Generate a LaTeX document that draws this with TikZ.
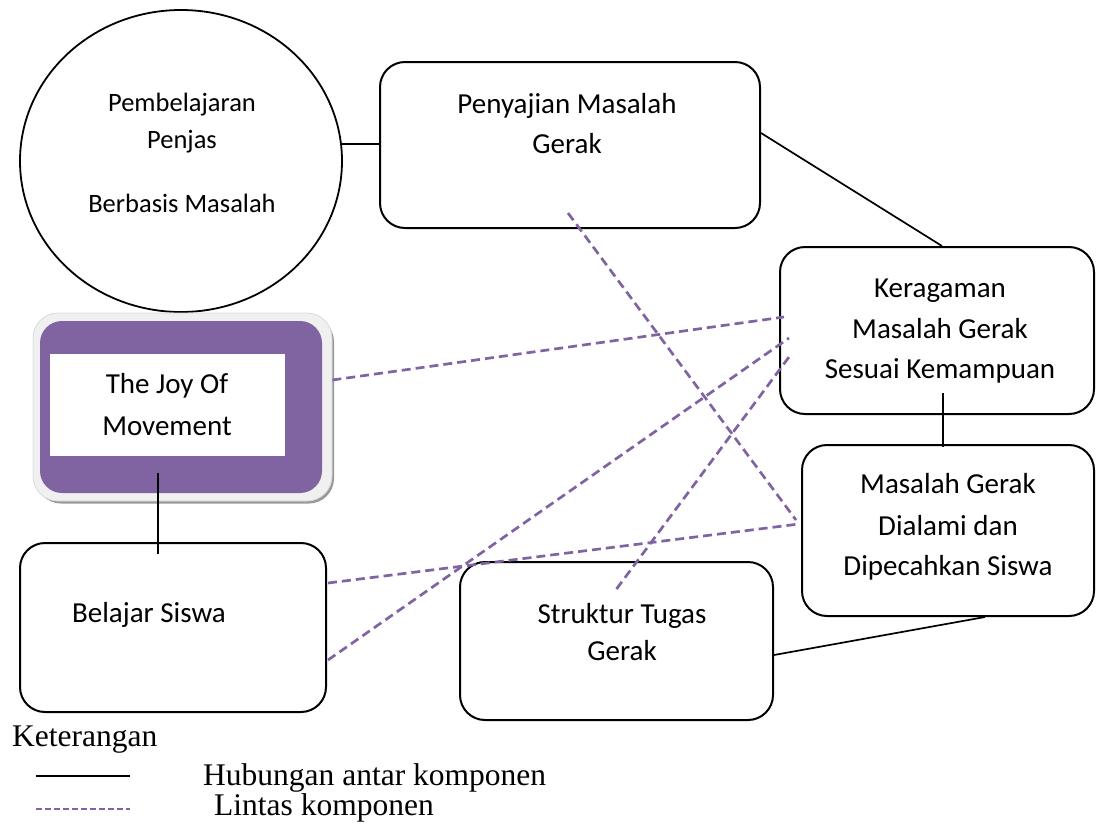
\documentclass[tikz,border=0pt]{standalone}
\usepackage{fontspec}
\setmainfont{Carlito}
\newfontfamily\legendfont{Liberation Serif}
\usetikzlibrary{calc,shapes.geometric}
\definecolor{pur}{HTML}{8064A2}
\tikzset{
  box/.style={draw=black, line width=2pt, rounded corners=25pt, inner sep=0pt, fill=white},
  txt/.style={font=\fontsize{29}{41}\selectfont, anchor=base, inner sep=0pt},
  ctxt/.style={font=\fontsize{26.5}{37}\selectfont, anchor=base, inner sep=0pt},
  ltxt/.style={font=\legendfont\fontsize{31.5}{36}\selectfont, anchor=base west, inner sep=0pt},
  link/.style={draw=black, line width=1.7pt},
  cross/.style={draw=pur, line width=2.7pt, dash pattern=on 9pt off 5pt},
  lcross/.style={draw=pur, line width=1.4pt, dash pattern=on 6pt off 3pt},
}
\begin{document}
\begin{tikzpicture}[x=1pt,y=-1pt]
\useasboundingbox (0,0) rectangle (1096,823);

% shapes
\node[draw=black, line width=1.8pt, ellipse, minimum width=322pt, minimum height=302pt, inner sep=0pt] (circ) at (181,161) {};
\node[box, minimum width=380pt, minimum height=166pt] (pen) at (570,145) {};
\node[box, minimum width=314pt, minimum height=167pt] (ker) at (937,330.5) {};
\node[box, minimum width=292pt, minimum height=171pt] (mas) at (948,530.5) {};
\node[box, minimum width=313pt, minimum height=158pt] (str) at (616.5,641) {};
\node[box, minimum width=306pt, minimum height=169pt] (bel) at (173,627.5) {};

% joy of movement box
\node[fill=black!40, rounded corners=25pt, minimum width=298pt, minimum height=187pt, inner sep=0pt] (joysh) at (185,410) {};
\node[fill=black!6, draw=black!15, line width=0.8pt, rounded corners=25pt, minimum width=299pt, minimum height=188pt, inner sep=0pt] (joyo) at (182.5,407) {};
\node[fill=pur, rounded corners=22pt, minimum width=282pt, minimum height=172pt, inner sep=0pt] (joyp) at (181,407) {};
\node[fill=white, minimum width=235pt, minimum height=102pt, inner sep=0pt] (joyw) at (167.5,405) {};

% texts
\node[ctxt] (c1) at (182,111) {Pembelajaran};
\node[ctxt] (c2) at (182,148) {Penjas};
\node[ctxt] (c3) at (182,212) {Berbasis Masalah};
\node[txt] (p1) at (567,113) {Penyajian Masalah};
\node[txt] (p2) at (567,153) {Gerak};
\node[txt] (k1) at (940,297) {Keragaman};
\node[txt] (k2) at (940,338) {Masalah Gerak};
\node[txt] (k3) at (940,378) {Sesuai Kemampuan};
\node[txt] (m1) at (948,493) {Masalah Gerak};
\node[txt] (m2) at (948,535) {Dialami dan};
\node[txt] (m3) at (948,575) {Dipecahkan Siswa};
\node[txt] (j1) at (167,393) {The Joy Of};
\node[txt] (j2) at (167,435) {Movement};
\node[txt] (b1) at (149,622) {Belajar Siswa};
\node[txt] (s1) at (622,623) {Struktur Tugas};
\node[txt] (s2) at (622,660) {Gerak};

% solid connectors
\draw[link] (circ.6) -- (circ.6 -| pen.west);
\draw[link] ([yshift=12pt]pen.east) -- ([xshift=5pt]ker.north);
\draw[link] ($(ker.south)+(6,-22)$) -- ($(mas.north)+(-5,3)$);
\draw[link] ($(str.east)+(0,14)$) -- ($(mas.south)+(37,0)$);
\draw[link] ($(joyp.south)+(-23,-20)$) -- ($(bel.north)+(-15,12)$);

% dashed cross connectors
\draw[cross] ($(joyo.east)+(0,-27)$) -- ($(ker.west)+(5,-13.5)$);
\draw[cross] ($(bel.east)+(1,32.5)$) -- ($(ker.west)+(10,7.5)$);
\draw[cross] ($(bel.east)+(1,-44.5)$) -- ($(mas.west)+(-2,-6.5)$);
\draw[cross] ($(pen.south)+(-2,-16)$) -- ($(mas.west)+(-5,-10.5)$);
\draw[cross] ($(str.north)+(0,28)$) -- ($(ker.west)+(10,26.5)$);

% legend
\node[ltxt] (ket) at (12,746) {Keterangan};
\coordinate (ls1) at (36,776);
\coordinate (ls2) at (130,776);
\coordinate (ld1) at (36,809);
\coordinate (ld2) at (130,809);
\draw[black, line width=1.8pt] (ls1) -- (ls2);
\draw[lcross] (ld1) -- (ld2);
\node[ltxt] (lh) at (203,785) {Hubungan antar komponen};
\node[ltxt] (ll) at (214,815) {Lintas komponen};
\end{tikzpicture}
\end{document}
